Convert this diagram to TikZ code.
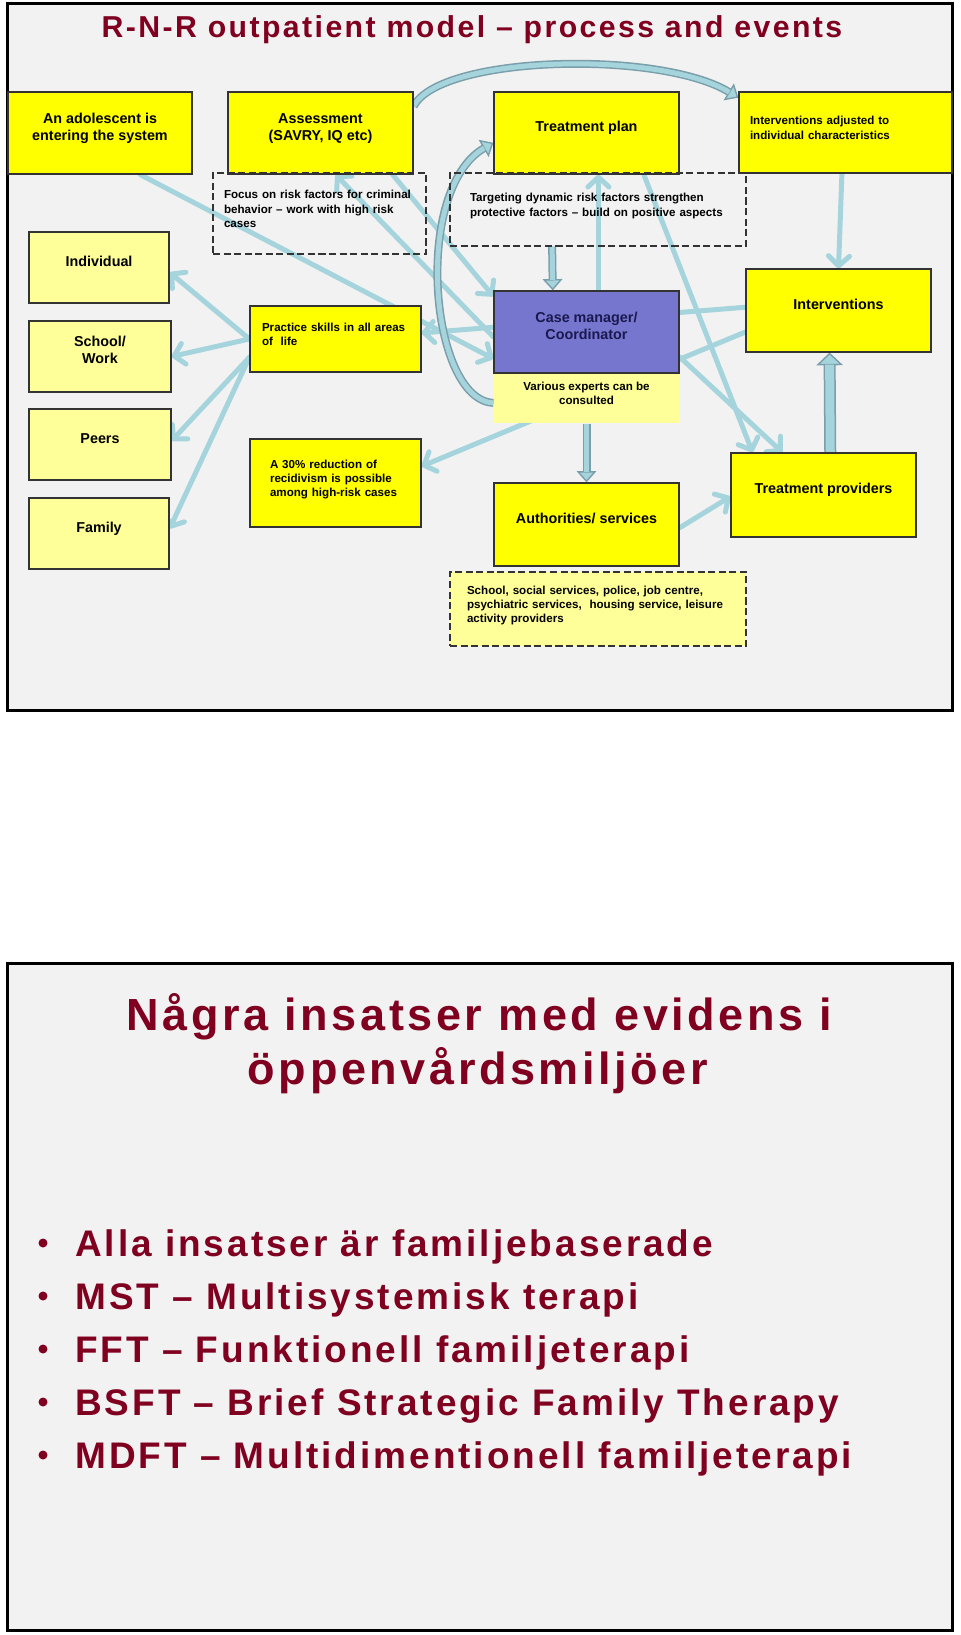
\documentclass[tikz,border=0pt]{standalone}
\usepackage{fontspec}
\setmainfont{Liberation Sans}
\newfontfamily\trackfont[LetterSpace=8]{Liberation Sans}
\usetikzlibrary{arrows.meta}

\newlength{\pxl}
\setlength{\pxl}{0.025cm}

\definecolor{slidegray}{RGB}{242,242,242}
\definecolor{boxyellow}{RGB}{255,255,0}
\definecolor{paleyellow}{RGB}{255,255,153}
\definecolor{casefill}{RGB}{118,118,206}
\definecolor{casetext}{RGB}{25,25,80}
\definecolor{linkcol}{RGB}{166,212,221}
\definecolor{fatcol}{RGB}{122,158,170}
\definecolor{titlered}{RGB}{128,0,32}

\pgfdeclarelayer{slide}
\pgfdeclarelayer{links}
\pgfsetlayers{slide,links,main}

\tikzset{
  slideframe/.style={draw=black, line width=3\pxl, fill=slidegray},
  bigbox/.style={draw=black!80, line width=1.3\pxl, fill=boxyellow, inner sep=0pt, align=center,
    font=\fontsize{10.2pt}{12.1pt}\selectfont\bfseries, text height=7.5pt, text depth=9.1pt},
  smallbox/.style={bigbox, align=left, font=\fontsize{8.25pt}{10.3pt}\selectfont\bfseries, text height=6.1pt, text depth=6.8pt},
  notebox/.style={smallbox, fill=none, dash pattern=on 5pt off 2.5pt},
  feed/.style={draw=linkcol, line width=5\pxl, line cap=round, -{Straight Barb[length=7pt,width=15pt,round]}},
  fatarrow/.style={draw=fatcol, line width=8\pxl, -{Triangle[length=8pt,width=14pt,fill=linkcol,line width=1pt]},
    postaction={draw=linkcol, line width=5\pxl, -, shorten >=7.5pt}},
  widearrow/.style={draw=fatcol, line width=12\pxl, -{Triangle[length=9pt,width=19pt,fill=linkcol,line width=1pt]},
    postaction={draw=linkcol, line width=9\pxl, -, shorten >=8.5pt}},
  slidehead/.style={text=titlered, inner sep=0pt, anchor=base, font=\trackfont\bfseries\fontsize{21.5pt}{26pt}\selectfont},
  bighead/.style={slidehead, font=\trackfont\bfseries\fontsize{32pt}{38pt}\selectfont},
  listline/.style={text=titlered, inner sep=0pt, anchor=base west, font=\trackfont\bfseries\fontsize{26.3pt}{32pt}\selectfont}
}

\begin{document}
\begin{tikzpicture}[x=0.025cm, y=-0.025cm]
    \useasboundingbox (0,0) rectangle (960,1635);
    \begin{pgfonlayer}{slide}
        \fill[white] (0,0) rectangle (960,1635);
        \draw[slideframe] (7,4) rectangle (952,710);
        \draw[slideframe] (7,963) rectangle (952,1630);
    \end{pgfonlayer}

    % slide 1
    \node[slidehead] (title) at (472,38) {R-N-R outpatient model – process and events};

    \node[bigbox, minimum width=184\pxl, minimum height=82\pxl, text height=19.6pt] (teen) at (100,133) {An adolescent is\\entering the system};
    \node[bigbox, minimum width=185\pxl, minimum height=82\pxl, text height=19.6pt] (assess) at (320.5,133) {Assessment\\(SAVRY, IQ etc)};
    \node[bigbox, minimum width=185\pxl, minimum height=82\pxl] (plan) at (586.5,133) {Treatment plan};
    \node[smallbox, minimum width=213\pxl, minimum height=81\pxl, inner xsep=11\pxl, text width=191\pxl, text depth=17.1pt] (adjusted) at (845.5,132.5) {Interventions adjusted to\\individual characteristics};

    \node[notebox, minimum width=213\pxl, minimum height=81\pxl, inner xsep=11\pxl, text width=191\pxl, text depth=27.4pt] (focus) at (319.5,213.5) {Focus on risk factors for criminal\\behavior – work with high risk\\cases};
    \node[notebox, minimum width=296\pxl, minimum height=73\pxl, inner xsep=20\pxl, text width=256\pxl, text depth=17.1pt] (target) at (598,209.5) {Targeting dynamic risk factors strengthen\\protective factors – build on positive aspects};

    \node[bigbox, fill=paleyellow, minimum width=140\pxl, minimum height=71\pxl] (indiv) at (99,267.5) {Individual};
    \node[bigbox, fill=paleyellow, minimum width=142\pxl, minimum height=71\pxl, text height=18.5pt] (school) at (100,356.5) {School/\\Work};
    \node[bigbox, fill=paleyellow, minimum width=142\pxl, minimum height=71\pxl] (peers) at (100,444.5) {Peers};
    \node[bigbox, fill=paleyellow, minimum width=140\pxl, minimum height=71\pxl] (family) at (99,533.5) {Family};

    \node[smallbox, minimum width=171\pxl, minimum height=66\pxl, inner xsep=12\pxl, text width=147\pxl, text depth=17.1pt] (practice) at (335.5,339) {Practice skills in all areas\\of\ \ life};
    \node[smallbox, minimum width=171\pxl, minimum height=88\pxl, inner xsep=20\pxl, text width=131\pxl, text depth=27.4pt] (reduce) at (335.5,483) {A 30\% reduction of\\recidivism is possible\\among high-risk cases};

    \node[smallbox, draw=none, fill=paleyellow, align=center, minimum width=185\pxl, minimum height=50\pxl, text height=16.4pt] (experts) at (586.5,398) {Various experts can be\\consulted};
    \node[bigbox, fill=casefill, text=casetext, minimum width=185\pxl, minimum height=82\pxl, text height=19.6pt] (casemgr) at (586.5,332) {Case manager/\\Coordinator};

    \node[bigbox, minimum width=185\pxl, minimum height=83\pxl] (interv) at (838.5,310.5) {Interventions};
    \node[bigbox, minimum width=185\pxl, minimum height=84\pxl] (provider) at (823.5,495) {Treatment providers};
    \node[bigbox, minimum width=185\pxl, minimum height=83\pxl] (authority) at (586.5,524.5) {Authorities/ services};
    \node[notebox, fill=paleyellow, minimum width=296\pxl, minimum height=74\pxl, inner xsep=17\pxl, text width=262\pxl, text depth=27.4pt] (agencies) at (598,609) {School, social services, police, job centre,\\psychiatric services,\ \ housing service, leisure\\activity providers};

    \begin{pgfonlayer}{links}
        \draw[feed] (teen.-46) -- (casemgr.196);
        \draw[feed] (casemgr.183) -- (assess.-70);
        \draw[feed] (assess.-30) -- (casemgr.159);
        \draw[feed] (interv.178) -- (practice.4);
        \draw[feed] (interv.193) -- (reduce.11);
        \draw[feed] (practice.west) -- (indiv.-4);
        \draw[feed] (practice.west) -- (school.east);
        \draw[feed] (practice.192) -- (peers.3);
        \draw[feed] (practice.192) -- (family.4);
        \draw[feed] (casemgr.74) -- (plan.-74);
        \draw[feed] (plan.-36) -- (provider.149);
        \draw[feed] (casemgr.-15) -- (provider.134);
        \draw[feed] (adjusted.-95) -- (interv.north);
        \draw[feed] (authority.-2) -- (provider.181);

        \draw[fatarrow] (target.219) -- (casemgr.129);
        \draw[fatarrow] (experts.south) -- (authority.north);
        \draw[widearrow] (provider.81) -- (interv.-102);
        \draw[fatarrow] (assess.16) .. controls (440,55) and (660,50) .. (adjusted.162);
        \draw[fatarrow] (experts.183) .. controls (430,400) and (412,190) .. (plan.186);
    \end{pgfonlayer}

    % slide 2
    \node[bighead] (head1) at (479.5,1030) {Några insatser med evidens i};
    \node[bighead] (head2) at (478,1084) {öppenvårdsmiljöer};

    \fill[titlered] (43,1243) circle (4.5\pxl);
    \node[listline] (item1) at (75,1256) {Alla insatser är familjebaserade};
    \fill[titlered] (43,1296) circle (4.5\pxl);
    \node[listline] (item2) at (75,1309) {MST – Multisystemisk terapi};
    \fill[titlered] (43,1349) circle (4.5\pxl);
    \node[listline] (item3) at (75,1362) {FFT – Funktionell familjeterapi};
    \fill[titlered] (43,1402) circle (4.5\pxl);
    \node[listline] (item4) at (75,1415) {BSFT – Brief Strategic Family Therapy};
    \fill[titlered] (43,1455) circle (4.5\pxl);
    \node[listline] (item5) at (75,1468) {MDFT – Multidimentionell familjeterapi};
\end{tikzpicture}
\end{document}
